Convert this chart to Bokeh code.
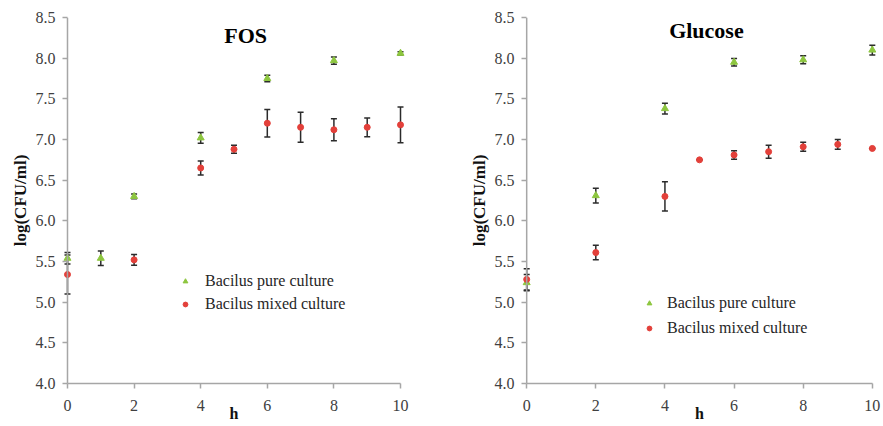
from bokeh.plotting import figure
from bokeh.layouts import row
from bokeh.models import ColumnDataSource, Whisker, TeeHead, Label, Legend, LegendItem, FixedTicker, NumeralTickFormatter, Range1d, Span
from bokeh.embed import file_html
from bokeh.resources import INLINE

# ---------------- data ----------------
fos_pure_h = [0, 1, 2, 4, 6, 8, 10]
fos_pure_v = [5.54, 5.54, 6.30, 7.02, 7.75, 7.97, 8.06]
fos_pure_e = [0.07, 0.09, 0.03, 0.065, 0.04, 0.045, 0.02]

fos_mix_h = [0, 2, 4, 5, 6, 7, 8, 9, 10]
fos_mix_v = [5.34, 5.52, 6.65, 6.88, 7.20, 7.15, 7.12, 7.15, 7.18]
fos_mix_e = [0.24, 0.065, 0.085, 0.05, 0.17, 0.185, 0.135, 0.115, 0.22]

glu_pure_h = [0, 2, 4, 6, 8, 10]
glu_pure_v = [5.24, 6.31, 7.38, 7.95, 7.98, 8.10]
glu_pure_e = [0.10, 0.09, 0.065, 0.045, 0.05, 0.06]

glu_mix_h = [0, 2, 4, 5, 6, 7, 8, 9, 10]
glu_mix_v = [5.28, 5.61, 6.30, 6.75, 6.81, 6.85, 6.91, 6.94, 6.89]
glu_mix_e = [0.13, 0.09, 0.18, 0.0, 0.053, 0.08, 0.055, 0.06, 0.0]

x_ticks = [0, 2, 4, 6, 8, 10]
y_ticks = [4.0, 4.5, 5.0, 5.5, 6.0, 6.5, 7.0, 7.5, 8.0, 8.5]
x_bounds = (0, 10)
y_bounds = (4.0, 8.5)
x_title = "h"
y_title = "log(CFU/ml)"
series_labels = ["Bacilus pure culture", "Bacilus mixed culture"]
titles = ["FOS", "Glucose"]

GREEN = "#8DC63F"
RED = "#E3403A"
AXIS = "#A6A6A6"
SERIF = "Liberation Serif"
PAD = 0.15  # small horizontal padding so end points are not clipped


def panel(title, pure, mix, width, height, borders, title_xy, leg_loc, leg_spacing, leg_standoff):
    p = figure(width=width, height=height, output_backend="svg", toolbar_location=None,
               x_range=Range1d(x_bounds[0] - PAD, x_bounds[1] + PAD), y_range=Range1d(*y_bounds),
               min_border_left=borders[0], min_border_right=borders[1],
               min_border_top=borders[2], min_border_bottom=borders[3])
    p.outline_line_color = None
    p.grid.visible = False
    p.background_fill_color = "white"
    p.border_fill_color = "white"

    for ax in (p.xaxis[0], p.yaxis[0]):
        ax.axis_line_color = AXIS
        ax.axis_line_width = 1.5
        ax.major_tick_line_color = AXIS
        ax.major_tick_line_width = 1.5
        ax.minor_tick_line_color = None
        ax.major_label_text_font = SERIF
        ax.major_label_text_font_size = "16px"
        ax.major_label_text_color = "#404040"
        ax.axis_label_text_font = SERIF
        ax.axis_label_text_font_style = "bold"
        ax.axis_label_text_color = "#111111"
    # x axis
    p.xaxis.ticker = FixedTicker(ticks=x_ticks)
    p.xaxis.bounds = x_bounds
    p.xaxis.major_tick_in = 0
    p.xaxis.major_tick_out = 5
    p.xaxis.major_label_standoff = 11
    p.xaxis.axis_label = x_title
    p.xaxis.axis_label_text_font_size = "16px"
    p.xaxis.axis_label_standoff = -9
    # y axis: drawn at frame edge, ticks reach inward to the h=0 line
    p.yaxis.ticker = FixedTicker(ticks=y_ticks)
    p.yaxis.formatter = NumeralTickFormatter(format="0.0")
    p.yaxis.axis_line_color = None
    p.yaxis.major_tick_in = 5
    p.yaxis.major_tick_out = 0
    p.yaxis.axis_label = y_title
    p.yaxis.axis_label_text_font_size = "17px"
    p.yaxis.axis_label_standoff = 3
    p.yaxis.major_label_standoff = 7
    p.add_layout(Span(location=x_bounds[0], dimension="height", line_color=AXIS, line_width=1.5))

    renderers = []
    for (h, v, e), marker, color, size in ((pure, "triangle", GREEN, 7), (mix, "circle", RED, 6)):
        src = ColumnDataSource(dict(h=h, v=v, lo=[a - b for a, b in zip(v, e)], hi=[a + b for a, b in zip(v, e)]))
        w = Whisker(base="h", upper="hi", lower="lo", source=src, line_color="#2b2b2b", line_width=1.5,
                    upper_head=TeeHead(size=6, line_color="#2b2b2b", line_width=1.5),
                    lower_head=TeeHead(size=6, line_color="#2b2b2b", line_width=1.5))
        p.add_layout(w)
        r = p.scatter("h", "v", source=src, marker=marker, size=size, fill_color=color, line_color=color)
        renderers.append(r)

    legend = Legend(items=[LegendItem(label=series_labels[0], renderers=[renderers[0]]),
                           LegendItem(label=series_labels[1], renderers=[renderers[1]])],
                    location=leg_loc, border_line_color=None, background_fill_alpha=0,
                    label_text_font=SERIF, label_text_font_size="16px", label_text_color="#262626",
                    glyph_width=12, glyph_height=16, label_height=16, label_standoff=leg_standoff,
                    spacing=leg_spacing, padding=0, margin=0)
    p.add_layout(legend)

    p.add_layout(Label(x=title_xy[0], y=title_xy[1], text=title, text_font=SERIF, text_font_style="bold",
                       text_font_size="22px", text_align="center", text_baseline="middle", text_color="black"))
    return p


p1 = panel(titles[0], (fos_pure_h, fos_pure_v, fos_pure_e), (fos_mix_h, fos_mix_v, fos_mix_e),
           440, 426, (62, 35, 17, 41), (5.35, 8.28), (117, 70), 5, 14)
p2 = panel(titles[1], (glu_pure_h, glu_pure_v, glu_pure_e), (glu_mix_h, glu_mix_v, glu_mix_e),
           443, 426, (81, 6, 17, 43), (5.2, 8.34), (122, 46), 7, 12)

layout = row(p1, p2)
open("out.html", "w").write(file_html(layout, INLINE))
